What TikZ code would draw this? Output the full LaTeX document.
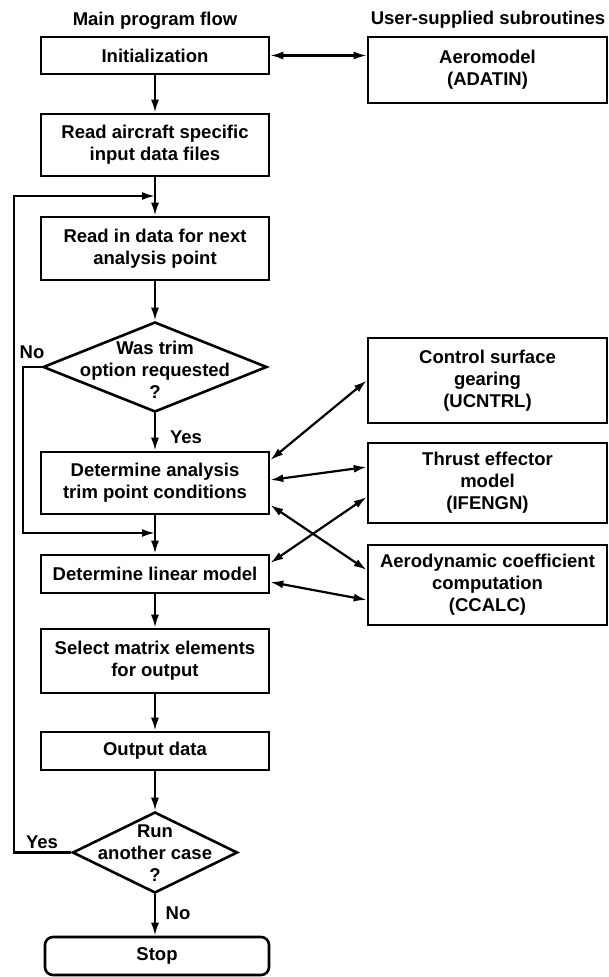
\documentclass[tikz,border=0pt]{standalone}
\usepackage{fontspec}
\setmainfont{Liberation Sans}
\usetikzlibrary{shapes.geometric,arrows.meta}
\tikzset{
  txt/.style={font=\bfseries\fontsize{18.5}{22}\selectfont, align=center, inner sep=0pt},
  box/.style={txt, draw, line width=2.6pt, rectangle, minimum width=228pt},
  rbox/.style={txt, draw, line width=2.6pt, rectangle, minimum width=239pt},
  dia/.style={draw, line width=2.6pt, diamond, inner sep=0pt},
  conn/.style={line width=2.2pt, -{Latex[length=13pt,width=8pt]}},
  dconn/.style={line width=2.2pt, {Latex[length=13pt,width=8pt]}-{Latex[length=13pt,width=8pt]}},
  lbl/.style={txt}
}
\begin{document}
\begin{tikzpicture}[x=1pt,y=-1pt]
\useasboundingbox (0,0) rectangle (609,977);

% headers
\node[txt] (hmain) at (155,21) {Main program flow};
\node[txt] (huser) at (488,20) {User-supplied subroutines};

% main column
\node[box, minimum height=37pt] (init) at (155,55.5) {Initialization};
\node[box, minimum height=62pt] (readac) at (155,145) {Read aircraft specific\\input data files};
\node[box, minimum height=63pt] (readin) at (155,248.5) {Read in data for next\\analysis point};
\node[dia, minimum width=224pt, minimum height=90pt] (d1) at (155,367) {};
\node[txt] (d1t) at (155,370) {Was trim\\option requested\\?};
\node[box, minimum height=62pt] (detan) at (155,483) {Determine analysis\\trim point conditions};
\node[box, minimum height=38pt] (linmod) at (155,574) {Determine linear model};
\node[box, minimum height=64pt] (select) at (155,661) {Select matrix elements\\for output};
\node[box, minimum height=38pt] (output) at (155,751) {Output data};
\node[dia, minimum width=165pt, minimum height=81pt] (d2) at (155,852.5) {};
\node[txt] (d2t) at (155,853) {Run\\another case\\?};
\node[box, minimum width=224pt, minimum height=38pt, rounded corners=8pt] (stop) at (157,956) {Stop};

% right column
\node[rbox, minimum height=66pt] (aero) at (487.5,70) {Aeromodel\\(ADATIN)};
\node[rbox, minimum height=85pt] (ctrl) at (487.5,380.5) {Control surface\\gearing\\(UCNTRL)};
\node[rbox, minimum height=80pt] (thrust) at (487.5,483) {Thrust effector\\model\\(IFENGN)};
\node[rbox, minimum height=80pt] (ccalc) at (487.5,585) {Aerodynamic coefficient\\computation\\(CCALC)};

% labels
\node[lbl] (lno1) at (32,352) {No};
\node[lbl] (lyes1) at (186,437) {Yes};
\node[lbl] (lyes2) at (42,842) {Yes};
\node[lbl] (lno2) at (178,913) {No};

% helper coordinates
\coordinate (loopL) at (14,196);
\coordinate (noL) at (23,533);

% main flow
\draw[conn] (init.south) -- (readac.north);
\draw[conn] (readac.south) -- (readin.north);
\draw[conn] (readin.south) -- (d1.north);
\draw[conn] (d1.south) -- (detan.north);
\draw[conn] (detan.south) -- (linmod.north);
\draw[conn] (linmod.south) -- (select.north);
\draw[conn] (select.south) -- (output.north);
\draw[conn] (output.south) -- (d2.north);
\draw[conn] (d2.south) -- (d2.south |- stop.north);

% loops
\draw[conn] (d2.west) -| (loopL) -- (loopL -| readin.north);
\draw[conn] (d1.west) -| (noL) -- (noL -| linmod.north);

% subroutine links
\draw[dconn] (init.east) -- (init.east -| aero.west);
\draw[dconn] ([yshift=23pt]detan.east) -- (ctrl.west);
\draw[dconn] ([yshift=3pt]detan.east) -- ([yshift=16pt]thrust.west);
\draw[dconn] ([yshift=-22pt]detan.east) -- ([yshift=15pt]ccalc.west);
\draw[dconn] ([yshift=11pt]linmod.east) -- ([yshift=-14pt]thrust.west);
\draw[dconn] ([yshift=-8pt]linmod.east) -- ([yshift=-15pt]ccalc.west);
\end{tikzpicture}
\end{document}
